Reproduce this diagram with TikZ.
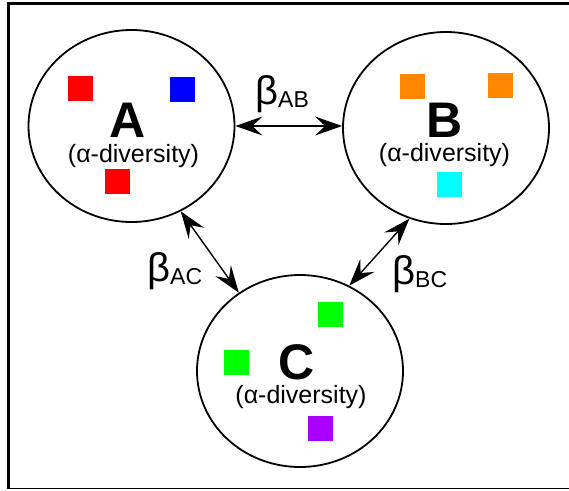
\documentclass[tikz,border=0pt]{standalone}
\usepackage{fontspec}
\setmainfont{Liberation Sans}
\usetikzlibrary{shapes.geometric,arrows.meta}
\tikzset{
  habitat/.style={draw, ellipse, line width=1.8pt, inner sep=0pt, minimum width=206pt, minimum height=192pt},
  letter/.style={anchor=base, inner sep=0pt, font=\fontsize{50}{50}\selectfont\bfseries},
  alphatext/.style={anchor=base, inner sep=0pt, font=\fontsize{25}{25}\selectfont},
  betalabel/.style={anchor=base west, inner sep=0pt, font=\fontsize{40}{40}\selectfont},
  species/.style={inner sep=0pt, minimum width=25pt, minimum height=25pt},
  tip/.style={Stealth[length=27pt,width=19pt,inset=10pt]},
  link/.style={line width=1.4pt, {Stealth[length=27pt,width=19pt,inset=10pt]}-{Stealth[length=27pt,width=19pt,inset=10pt]}}
}
\newcommand{\betasub}[1]{β\raisebox{-3pt}{\fontsize{23}{23}\selectfont #1}}
\begin{document}
\begin{tikzpicture}[x=1pt,y=-1pt]
\useasboundingbox (0,0) rectangle (569,490);
\fill[white] (0,0) rectangle (569,490);
% frame
\draw[line width=3pt] (8.5,489) -- (8.5,3.5) -- (569,3.5);
\draw[line width=1pt] (8.5,488) -- (569,488);

% habitats
\node[habitat] (A) at (131.5,126) {};
\node[habitat] (B) at (446,128) {};
\node[habitat] (C) at (300,371) {};

% labels
\node[letter] (Alab) at (128,137.5) {A};
\node[alphatext] (Aalpha) at (133.5,162) {(α-diversity)};
\node[letter] (Blab) at (445,137.5) {B};
\node[alphatext] (Balpha) at (444.5,161) {(α-diversity)};
\node[letter] (Clab) at (297,379.5) {C};
\node[alphatext] (Calpha) at (301,403) {(α-diversity)};

% species
\node[species, fill={rgb,255:red,255;green,0;blue,0}] (a1) at (80,88) {};
\node[species, fill={rgb,255:red,0;green,0;blue,255}] (a2) at (182.5,89) {};
\node[species, fill={rgb,255:red,255;green,0;blue,0}] (a3) at (117.5,181.5) {};
\node[species, fill={rgb,255:red,255;green,136;blue,0}] (b1) at (412,86.5) {};
\node[species, fill={rgb,255:red,255;green,136;blue,0}] (b2) at (500,85.5) {};
\node[species, fill={rgb,255:red,0;green,255;blue,255}] (b3) at (449.5,184.5) {};
\node[species, fill={rgb,255:red,0;green,255;blue,0}] (c1) at (330.5,314.5) {};
\node[species, fill={rgb,255:red,0;green,255;blue,0}] (c2) at (236.5,362.5) {};
\node[species, fill={rgb,255:red,170;green,0;blue,255}] (c3) at (320,428.5) {};

% connectors
\draw[link] (A.east) -- (A.east -| B.west);
\draw[link] (A.-60) -- (C.128);
\draw[link] (B.-112.6) -- (C.60);

% beta labels
\node[betalabel] (bAB) at (255,104) {\betasub{AB}};
\node[betalabel] (bAC) at (147,281) {\betasub{AC}};
\node[betalabel] (bBC) at (392,284) {\betasub{BC}};
\end{tikzpicture}
\end{document}
